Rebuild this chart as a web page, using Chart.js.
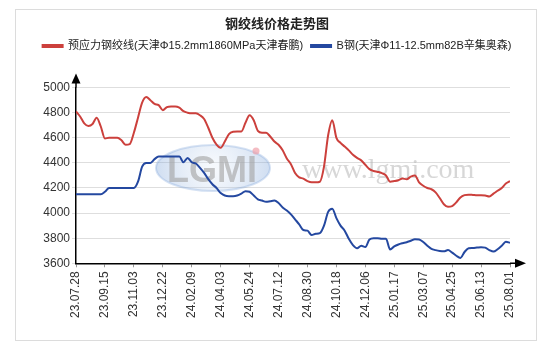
<!DOCTYPE html>
<html>
<head>
<meta charset="utf-8">
<script src="https://cdn.jsdelivr.net/npm/chart.js@4.4.1/dist/chart.umd.min.js"></script>
<style>
  html, body { margin: 0; padding: 0; background: #fff; }
  #wrap { width: 554px; height: 352px; position: relative; }
</style>
</head>
<body>
<div id="wrap"><canvas id="priceChart" width="554" height="352"></canvas></div>
<script>
// tick labels, one every 7 points
const tickLabels = ['23.07.28', '23.09.15', '23.11.03', '23.12.22', '24.02.09', '24.04.03', '24.05.24', '24.07.12',
    '24.08.30', '24.10.18', '24.12.06', '25.01.17', '25.03.07', '25.04.25', '25.06.13', '25.08.01'];
const pointsPerTick = 7;

const seriesNames = ['预应力钢绞线(天津Φ15.2mm1860MPa天津春鹏)', 'B钢(天津Φ11-12.5mm82B辛集奥森)'];

// 预应力钢绞线
const strandPrices = [
    4810, 4770, 4715, 4695, 4710, 4760, 4690, 4595, 4600, 4600,
    4600, 4580, 4545, 4550, 4640, 4760, 4880, 4925, 4900, 4870,
    4860, 4820, 4845, 4850, 4850, 4840, 4812, 4800, 4795, 4795,
    4780, 4750, 4680, 4600, 4545, 4520, 4570, 4630, 4648, 4650,
    4650, 4720, 4780, 4740, 4655, 4640, 4640, 4610, 4570, 4545,
    4500, 4435, 4390, 4320, 4285, 4275, 4255, 4245, 4245, 4250,
    4370, 4620, 4740, 4600, 4560, 4530, 4500, 4465, 4440, 4420,
    4385, 4350, 4335, 4328, 4318, 4300, 4250, 4255, 4262, 4275,
    4270, 4290, 4300, 4245, 4218, 4200, 4190, 4165, 4120, 4070,
    4050, 4055, 4085, 4125, 4143, 4147, 4145, 4142, 4142, 4140,
    4133, 4155, 4178, 4200, 4235, 4255
];

// B钢
const wirePrices = [
    4150, 4150, 4150, 4150, 4150, 4150, 4150, 4170, 4200, 4200,
    4200, 4200, 4200, 4200, 4200, 4250, 4370, 4400, 4400, 4430,
    4450, 4450, 4450, 4450, 4450, 4450, 4405, 4440, 4405, 4395,
    4360, 4320, 4270, 4230, 4200, 4160, 4140, 4135, 4135, 4140,
    4155, 4175, 4170, 4140, 4110, 4100, 4090, 4095, 4100, 4080,
    4045, 4020, 3990, 3950, 3910, 3865, 3860, 3825, 3835, 3840,
    3900, 4010, 4035, 3960, 3900, 3860, 3795, 3745, 3720, 3740,
    3730, 3790, 3800, 3800, 3795, 3795, 3710, 3735, 3750, 3760,
    3768, 3780, 3792, 3790, 3770, 3740, 3715, 3705, 3698, 3695,
    3705, 3685, 3660, 3643, 3690, 3720, 3722, 3725, 3728, 3725,
    3705, 3693, 3712, 3740, 3772, 3763
];

const yMin = 3600, yMax = 5000, yStep = 200;

const redColor = 'rgb(204, 64, 60)';
const blueColor = 'rgb(36, 72, 160)';
const fontFamily = '"Liberation Sans", Arial, "Noto Sans CJK SC", sans-serif';

function toPoints(values) {
    return values.map((v, i) => ({ x: i, y: v }));
}

// frame, watermark, axis arrows
const decorPlugin = {
    id: 'decor',
    beforeDraw(chart) {
        const ctx = chart.ctx;
        ctx.save();
        ctx.fillStyle = '#fff';
        ctx.fillRect(0, 0, chart.width, chart.height);
        ctx.strokeStyle = '#dcdcdc';
        ctx.lineWidth = 1;
        ctx.strokeRect(15.5, 9.5, 521, 331);
        ctx.restore();
    },
    beforeDatasetsDraw(chart) {
        const ctx = chart.ctx;
        ctx.save();
        // LGMI logo
        ctx.beginPath();
        ctx.ellipse(213, 168, 57, 23, 0, 0, Math.PI * 2);
        const g = ctx.createRadialGradient(213, 168, 5, 213, 168, 57);
        g.addColorStop(0, 'rgba(215, 228, 245, 0.25)');
        g.addColorStop(1, 'rgba(120, 160, 215, 0.35)');
        ctx.fillStyle = g;
        ctx.fill();
        ctx.lineWidth = 2;
        ctx.strokeStyle = 'rgba(120, 160, 215, 0.3)';
        ctx.stroke();
        ctx.font = 'bold 36px "Liberation Sans", Arial, sans-serif';
        ctx.fillStyle = 'rgba(160, 160, 160, 0.6)';
        ctx.textBaseline = 'alphabetic';
        ctx.fillText('LGMI', 167, 182);
        ctx.fillStyle = 'rgba(240, 160, 170, 0.7)';
        ctx.beginPath();
        ctx.arc(256, 151, 3.5, 0, Math.PI * 2);
        ctx.fill();
        // site text
        ctx.font = '28px "Liberation Serif", "Times New Roman", serif';
        ctx.fillStyle = 'rgba(175, 175, 175, 0.5)';
        ctx.fillText('www.lgmi.com', 302, 178);
        ctx.restore();
    },
    afterDraw(chart) {
        const { ctx, chartArea } = chart;
        const x0 = chart.scales.x.left;
        const yBottom = chart.scales.y.bottom;
        ctx.save();
        ctx.strokeStyle = '#000';
        ctx.fillStyle = '#000';
        ctx.lineWidth = 1.5;
        ctx.beginPath();
        ctx.moveTo(x0, chartArea.top);
        ctx.lineTo(x0, chartArea.top - 6);
        ctx.moveTo(chartArea.right, yBottom);
        ctx.lineTo(chartArea.right + 6, yBottom);
        ctx.stroke();
        // y arrow
        ctx.beginPath();
        ctx.moveTo(x0, chartArea.top - 14);
        ctx.lineTo(x0 - 4.5, chartArea.top - 4);
        ctx.lineTo(x0 + 4.5, chartArea.top - 4);
        ctx.closePath();
        ctx.fill();
        // x arrow
        ctx.beginPath();
        ctx.moveTo(chartArea.right + 16, yBottom);
        ctx.lineTo(chartArea.right + 5, yBottom - 4.5);
        ctx.lineTo(chartArea.right + 5, yBottom + 4.5);
        ctx.closePath();
        ctx.fill();
        ctx.restore();
    }
};

new Chart(document.getElementById('priceChart'), {
    type: 'line',
    data: {
        datasets: [{
            label: seriesNames[0],
            data: toPoints(strandPrices),
            borderColor: redColor,
            backgroundColor: redColor,
            borderWidth: 2,
            pointRadius: 0,
            cubicInterpolationMode: 'monotone'
        }, {
            label: seriesNames[1],
            data: toPoints(wirePrices),
            borderColor: blueColor,
            backgroundColor: blueColor,
            borderWidth: 2,
            pointRadius: 0,
            cubicInterpolationMode: 'monotone'
        }]
    },
    options: {
        responsive: false,
        animation: false,
        events: [],
        layout: { padding: { left: 15, right: 15, top: 0, bottom: 30 } },
        plugins: {
            title: {
                display: true,
                text: '钢绞线价格走势图',
                color: '#222',
                font: { family: fontFamily, size: 13, weight: 'bold' },
                padding: { top: 17, bottom: 0 }
            },
            legend: {
                display: true,
                labels: {
                    color: '#222',
                    font: { family: fontFamily, size: 11 },
                    boxWidth: 20,
                    boxHeight: 2,
                    padding: 8
                }
            },
            tooltip: { enabled: false }
        },
        scales: {
            x: {
                type: 'linear',
                min: 0,
                max: (tickLabels.length - 1) * pointsPerTick,
                ticks: {
                    stepSize: pointsPerTick,
                    autoSkip: false,
                    minRotation: 90,
                    maxRotation: 90,
                    color: '#333',
                    font: { family: fontFamily, size: 12 },
                    padding: 4,
                    callback: v => tickLabels[Math.round(v / pointsPerTick)]
                },
                grid: { drawOnChartArea: false, tickLength: 4, color: '#999' },
                border: { color: '#000', width: 1.5 }
            },
            // empty top axis, only keeps room for the y arrow
            xTop: {
                axis: 'x',
                position: 'top',
                display: true,
                afterFit: scale => { scale.height = 26; },
                ticks: { display: false },
                grid: { display: false },
                border: { display: false }
            },
            y: {
                min: yMin,
                max: yMax,
                afterFit: scale => { scale.width = 61; },
                ticks: {
                    stepSize: yStep,
                    color: '#333',
                    font: { family: fontFamily, size: 12 },
                    padding: 2,
                    callback: v => String(v)
                },
                grid: { color: '#dedede', tickLength: 4 },
                border: { color: '#000', width: 1.5 }
            },
            // empty right axis, only keeps room for the x arrow
            yRight: {
                position: 'right',
                display: true,
                afterFit: scale => { scale.width = 29; },
                ticks: { display: false },
                grid: { display: false },
                border: { display: false }
            }
        }
    },
    plugins: [decorPlugin]
});
</script>
</body>
</html>
